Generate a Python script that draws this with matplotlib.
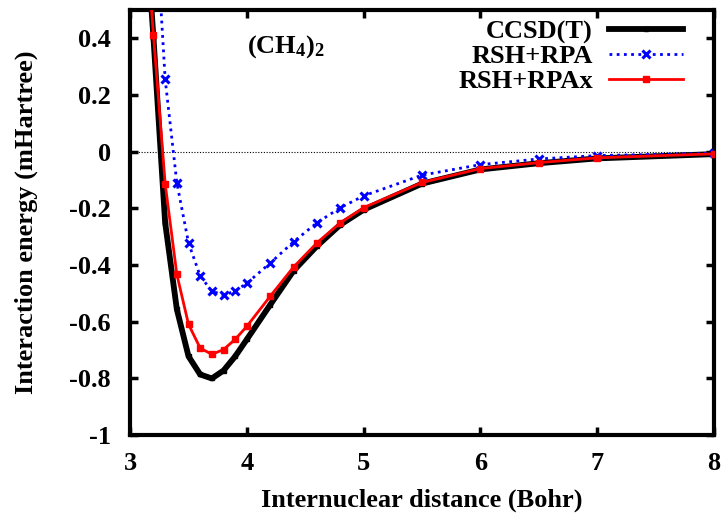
import matplotlib
matplotlib.use("Agg")
import matplotlib.pyplot as plt

plt.rcParams['font.family'] = ['Liberation Serif', 'DejaVu Serif']
plt.rcParams['font.weight'] = 'bold'
plt.rcParams['mathtext.fontset'] = 'custom'
plt.rcParams['mathtext.rm'] = 'Liberation Serif:bold'
plt.rcParams['mathtext.default'] = 'rm'

distance = [3.1, 3.2, 3.3, 3.4, 3.5, 3.6, 3.7, 3.8, 3.9, 4.0, 4.2, 4.4, 4.6, 4.8, 5.0, 5.5, 6.0, 6.5, 7.0, 8.0]
ccsdt = [1.00, 0.40, -0.251, -0.556, -0.722, -0.786, -0.800, -0.772, -0.722, -0.662, -0.540, -0.420,
         -0.333, -0.258, -0.205, -0.113, -0.063, -0.041, -0.024, -0.009]
rsh_rpa = [1.60, 0.95, 0.255, -0.110, -0.322, -0.439, -0.492, -0.506, -0.492, -0.464, -0.393, -0.318,
           -0.251, -0.198, -0.156, -0.083, -0.046, -0.026, -0.014, -0.006]
rsh_rpax = [0.95, 0.41, -0.113, -0.433, -0.609, -0.693, -0.715, -0.698, -0.662, -0.616, -0.510, -0.407,
            -0.322, -0.251, -0.198, -0.109, -0.060, -0.039, -0.022, -0.008]

fig = plt.figure(figsize=(7.27, 5.15), dpi=100)
ax = fig.add_axes([0.179, 0.155, 0.803, 0.826])

ax.axhline(0, color='black', lw=0.8, ls=(0, (1, 1.5)), zorder=1)
ax.plot(distance, ccsdt, color='black', lw=4.2, marker='s', ms=3.5, label='CCSD(T)', zorder=2)
ax.plot(distance, rsh_rpa, color='#0000ff', lw=2, ls=(0, (1, 1.6)), marker='x', ms=6, mew=2.2,
        label='RSH+RPA', zorder=3)
ax.plot(distance, rsh_rpax, color='#ff0000', lw=2, marker='s', ms=5, label='RSH+RPAx', zorder=4)

ax.set_xlim(3, 8)
ax.set_ylim(-1, 0.5)
ax.set_xticks([3, 4, 5, 6, 7, 8])
ax.set_yticks([-1, -0.8, -0.6, -0.4, -0.2, 0, 0.2, 0.4])
ax.set_yticklabels(['-1', '-0.8', '-0.6', '-0.4', '-0.2', '0', '0.2', '0.4'])
ax.tick_params(direction='in', top=True, right=True, length=6, width=2.5, labelsize=19)
ax.tick_params(axis='x', pad=12)
ax.tick_params(axis='y', pad=14)
for lab in ax.get_xticklabels() + ax.get_yticklabels():
    lab.set_fontweight('bold')
for s in ax.spines.values():
    s.set_linewidth(3)

ax.set_xlabel('Internuclear distance (Bohr)', fontsize=19, fontweight='bold', labelpad=10)
ax.set_ylabel('Interaction energy (mHartree)', fontsize=19, fontweight='bold', labelpad=22)

ax.text(4.33, 0.37, r'(CH$_4$)$_2$', fontsize=19, fontweight='bold', ha='center', va='center')

leg = ax.legend(loc='upper right', bbox_to_anchor=(0.978, 1.02), markerfirst=False, frameon=False,
                prop={'weight': 'bold', 'size': 19}, handlelength=2.8, labelspacing=0.05,
                handletextpad=0.6, borderpad=0.2)

fig.savefig('out.png', dpi=100)
